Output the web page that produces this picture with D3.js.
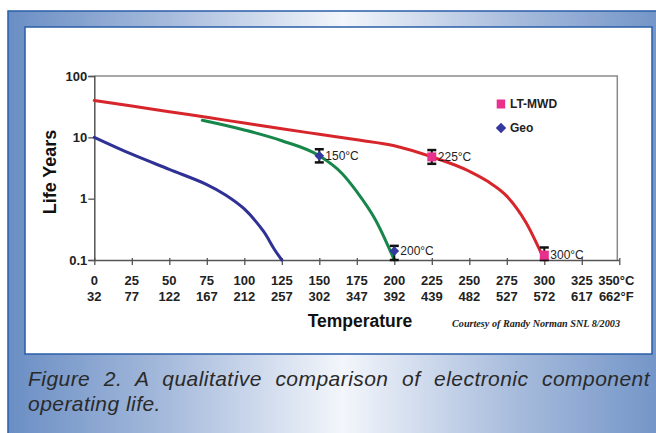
<!DOCTYPE html>
<html>
<head>
<meta charset="utf-8">
<script src="https://cdn.jsdelivr.net/npm/d3@7"></script>
<style>
  html, body { margin: 0; padding: 0; background: #fff; }
  svg { display: block; }
  text { font-family: "Liberation Sans", Arial, Helvetica, sans-serif; }
</style>
</head>
<body>
<svg id="chart" width="656" height="433"></svg>
<script>
// ---- data ----
const celsiusTicks = [0, 25, 50, 75, 100, 125, 150, 175, 200, 225, 250, 275, 300, 325, 350];
const celsiusLabels = ["0", "25", "50", "75", "100", "125", "150", "175", "200", "225", "250", "275", "300", "325", "350°C"];
const fahrenheitLabels = ["32", "77", "122", "167", "212", "257", "302", "347", "392", "439", "482", "527", "572", "617", "662°F"];
const lifeTicks = [0.1, 1, 10, 100];
const lifeTickLabels = ["0.1", "1", "10", "100"];

// red curve (LT-MWD)
const redTemps  = [0, 25, 50, 75, 100, 125, 150, 175, 200, 225, 250, 262.5, 275, 287.5, 300];
const redLife   = [40, 32.5, 26.2, 21.2, 17.1, 13.8, 11.2, 9.1, 7.3, 4.8, 2.8, 1.9, 1.1, 0.42, 0.1];
// green curve
const greenTemps = [72, 100, 125, 150, 165, 175, 187.5, 200];
const greenLife  = [19, 13.2, 8.8, 5, 2.6, 1.3, 0.45, 0.1];
// blue curve (Geo)
const blueTemps = [0, 25, 50, 75, 87.5, 100, 112.5, 120, 125];
const blueLife  = [10, 5.3, 3.0, 1.7, 1.15, 0.68, 0.3, 0.15, 0.1];

// tested points with error bars
const pointTemps  = [150, 200, 225, 300];
const pointLife   = [5, 0.14, 4.8, 0.12];
const pointLow    = [3.9, 0.1, 3.7, 0.1];
const pointHigh   = [6.4, 0.17, 6.2, 0.16];
const pointSeries = ["Geo", "Geo", "LT-MWD", "LT-MWD"];
const pointLabels = ["150°C", "200°C", "225°C", "300°C"];

const legendNames = ["LT-MWD", "Geo"];

// ---- drawing ----
const svg = d3.select("#chart");
const defs = svg.append("defs");

const grad = defs.append("linearGradient").attr("id", "frameGrad")
  .attr("x1", "0%").attr("x2", "100%").attr("y1", "0%").attr("y2", "0%");
[[0, "#6a8ec4"], [0.25, "#a9bddd"], [0.5, "#f3f6fb"], [0.75, "#a9bddd"], [1, "#6c90c5"]]
  .forEach(([o, c]) => grad.append("stop").attr("offset", o).attr("stop-color", c));

// outer blue frame
svg.append("rect").attr("x", 8).attr("y", 11).attr("width", 670).attr("height", 440)
  .attr("fill", "url(#frameGrad)").attr("stroke", "#2a5ea8").attr("stroke-width", 1.5);

// white chart panel
svg.append("rect").attr("x", 25).attr("y", 27).attr("width", 627).attr("height", 327)
  .attr("fill", "#ffffff").attr("stroke", "#2a5ea8").attr("stroke-width", 1.5);

const x = d3.scaleLinear().domain([0, 350]).range([94.3, 619.3]);
const y = d3.scaleLog().domain([0.1, 100]).range([260, 76]);

// plot frame: top and right
svg.append("path")
  .attr("d", `M${x(0)},${y(100)}H${x(0) + 523}V${y(0.1)}`)
  .attr("fill", "none").attr("stroke", "#8a8a8a").attr("stroke-width", 1.5);

// y axis
const yAxis = d3.axisLeft(y).tickValues(lifeTicks)
  .tickFormat((d, i) => lifeTickLabels[i]).tickSize(6).tickPadding(1);
const gy = svg.append("g").attr("transform", `translate(${x(0)},0)`).call(yAxis);
gy.select(".domain").attr("stroke", "#555").attr("stroke-width", 1.5);
gy.selectAll(".tick line").attr("stroke", "#555").attr("stroke-width", 1.3);
gy.selectAll(".tick text").attr("fill", "#222")
  .style("font-family", "'Liberation Sans', Arial, sans-serif")
  .style("font-size", "13px").style("font-weight", "bold");

// x axis (ticks only, labels in two rows below)
const xAxis = d3.axisBottom(x).tickValues(celsiusTicks).tickFormat("").tickSize(5).tickSizeOuter(0);
const gx = svg.append("g").attr("transform", `translate(0,${y(0.1)})`).call(xAxis);
gx.select(".domain").attr("stroke", "#555").attr("stroke-width", 1.5);
gx.selectAll(".tick line").attr("stroke", "#555").attr("stroke-width", 1.3).attr("y1", -2);

const lastShift = -3;
svg.append("g").selectAll("text").data(celsiusTicks).join("text")
  .attr("x", (d, i) => x(d) + (i === celsiusTicks.length - 1 ? lastShift : 0))
  .attr("y", 284.5)
  .attr("text-anchor", "middle")
  .attr("fill", "#222").style("font-size", "13px").style("font-weight", "bold")
  .text((d, i) => celsiusLabels[i]);
svg.append("g").selectAll("text").data(celsiusTicks).join("text")
  .attr("x", (d, i) => x(d) + (i === celsiusTicks.length - 1 ? lastShift : 0))
  .attr("y", 301)
  .attr("text-anchor", "middle")
  .attr("fill", "#222").style("font-size", "13px").style("font-weight", "bold")
  .text((d, i) => fahrenheitLabels[i]);

// axis titles
svg.append("text").attr("x", 360).attr("y", 327).attr("text-anchor", "middle")
  .attr("fill", "#111").style("font-size", "17.5px").style("font-weight", "bold")
  .text("Temperature");
svg.append("text").attr("transform", "translate(55.5,172) rotate(-90)").attr("text-anchor", "middle")
  .attr("fill", "#111").style("font-size", "18px").style("font-weight", "bold")
  .text("Life Years");

svg.append("text").attr("x", 452).attr("y", 327)
  .attr("textLength", 168).attr("lengthAdjust", "spacingAndGlyphs")
  .attr("fill", "#222")
  .style("font-family", "'Liberation Serif', 'Times New Roman', serif")
  .style("font-size", "9.5px").style("font-weight", "bold").style("font-style", "italic")
  .text("Courtesy of Randy Norman SNL 8/2003");

// curves
const curves = [
  { t: redTemps, v: redLife, color: "#d7262b", curve: d3.curveMonotoneX },
  { t: greenTemps, v: greenLife, color: "#17864a", curve: d3.curveMonotoneX },
  { t: blueTemps, v: blueLife, color: "#2f3194", curve: d3.curveCatmullRom.alpha(0.5) }
];
svg.append("g").selectAll("path").data(curves).join("path")
  .attr("d", c => d3.line().x(d => x(d[0])).y(d => y(d[1])).curve(c.curve)(c.t.map((t, i) => [t, c.v[i]])))
  .attr("fill", "none").attr("stroke", c => c.color)
  .attr("stroke-width", 3).attr("stroke-linecap", "round");

// error bars and markers
const markerColor = { "LT-MWD": "#e8318c", "Geo": "#35389e" };
const pts = pointTemps.map((t, i) => ({
  t, v: pointLife[i], lo: pointLow[i], hi: pointHigh[i], s: pointSeries[i], label: pointLabels[i]
}));
const gp = svg.append("g");
pts.forEach(p => {
  const cx = x(p.t);
  gp.append("line").attr("x1", cx).attr("x2", cx).attr("y1", y(p.lo)).attr("y2", y(p.hi))
    .attr("stroke", "#111").attr("stroke-width", 2);
  [p.lo, p.hi].forEach(v => gp.append("line")
    .attr("x1", cx - 4.5).attr("x2", cx + 4.5).attr("y1", y(v)).attr("y2", y(v))
    .attr("stroke", "#111").attr("stroke-width", 2.5));
  if (p.s === "Geo") {
    gp.append("path").attr("d", d3.symbol(d3.symbolDiamond2, 60)())
      .attr("transform", `translate(${cx},${y(p.v)})`).attr("fill", markerColor.Geo);
  } else {
    gp.append("rect").attr("x", cx - 4.5).attr("y", y(p.v) - 4.5).attr("width", 9).attr("height", 9)
      .attr("fill", markerColor["LT-MWD"]);
  }
  gp.append("text").attr("x", cx + 6).attr("y", y(p.v) + 4)
    .attr("fill", "#222").style("font-size", "12px").text(p.label);
});

// legend
const lg = svg.append("g");
legendNames.forEach((name, i) => {
  const ly = 104 + i * 24;
  if (name === "Geo") {
    lg.append("path").attr("d", d3.symbol(d3.symbolDiamond2, 70)())
      .attr("transform", `translate(501,${ly})`).attr("fill", markerColor.Geo);
  } else {
    lg.append("rect").attr("x", 496.7).attr("y", ly - 4.5).attr("width", 8.5).attr("height", 9)
      .attr("fill", markerColor["LT-MWD"]);
  }
  lg.append("text").attr("x", 510).attr("y", ly + 4.3)
    .attr("fill", "#222").style("font-size", "12px").style("font-weight", "bold").text(name);
});

// caption, first line justified to the panel width
const capStyle = t => t.attr("fill", "#2a2a2a").style("font-size", "21px")
  .style("font-style", "italic").style("letter-spacing", "0.45px");
const cap1 = svg.append("text").attr("x", 28).attr("y", 386).call(capStyle)
  .text("Figure 2. A qualitative comparison of electronic component");
const natural = cap1.node().getComputedTextLength();
const spaces = cap1.text().split(" ").length - 1;
cap1.style("word-spacing", Math.max(0, (650 - 28 - natural) / spaces) + "px");
svg.append("text").attr("x", 28).attr("y", 411).call(capStyle).text("operating life.");
</script>
</body>
</html>
